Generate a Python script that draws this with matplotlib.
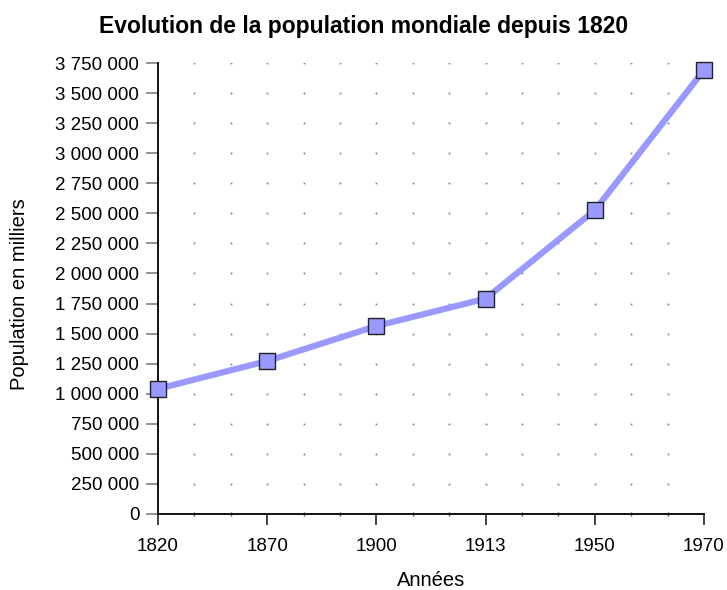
import matplotlib.pyplot as plt
import numpy as np
from matplotlib.ticker import FuncFormatter, MultipleLocator

plt.rcParams['font.family'] = ['Liberation Sans', 'DejaVu Sans']

annees = ["1820", "1870", "1900", "1913", "1950", "1970"]
population = [1041000, 1272000, 1563000, 1791000, 2525000, 3692000]

fig = plt.figure(figsize=(7.27, 5.90), dpi=100)
ax = fig.add_axes([158/727, 1 - 514/590, (704 - 158)/727, (514 - 63)/590])

x = np.arange(len(annees))
ax.set_xlim(0, len(annees) - 1)
ax.set_ylim(0, 3750000)
ax.yaxis.set_major_locator(MultipleLocator(250000))
ax.yaxis.set_major_formatter(FuncFormatter(lambda v, p: f"{int(v):,}".replace(",", " ")))
ax.set_xticks(x)
ax.set_xticklabels(annees)
ax.xaxis.set_minor_locator(MultipleLocator(1/3))

# grille en pointillés : un point par intersection
gx = np.arange(1, 3 * (len(annees) - 1)) / 3
gy = np.arange(250000, 3750001, 250000)
GX, GY = np.meshgrid(gx, gy)
ax.plot(GX.ravel(), GY.ravel(), ls="none", marker="s", ms=1.3, color="#888888", mew=0, zorder=1)

ax.plot(x, population, color="#9999ff", lw=4.5, zorder=3, clip_on=False,
        marker="s", ms=11, mfc="#9999ff", mec="#222222", mew=1)

for s in ["top", "right"]:
    ax.spines[s].set_visible(False)
ax.spines["left"].set_linewidth(1.3)
ax.spines["bottom"].set_linewidth(1.3)
ax.tick_params(axis="y", direction="out", length=8.5, width=1.2, color="#808080", labelsize=13.5, pad=5)
ax.tick_params(axis="x", which="major", direction="out", length=8, width=1.2, color="#222222", labelsize=13.5, pad=9)
ax.tick_params(axis="x", which="minor", direction="inout", length=3, width=1, color="#555555")

fig.text(0.5, 1 - 27/590, "Evolution de la population mondiale depuis 1820",
         ha="center", va="center", fontsize=16.5, fontweight="bold")
fig.text(431/727, 1 - 580/590, "Années", ha="center", va="center", fontsize=14.5)
fig.text(20/727, 1 - 294/590, "Population en milliers", ha="center", va="center",
         rotation=90, fontsize=14.5)

plt.savefig("out.png", dpi=100)
plt.close()
